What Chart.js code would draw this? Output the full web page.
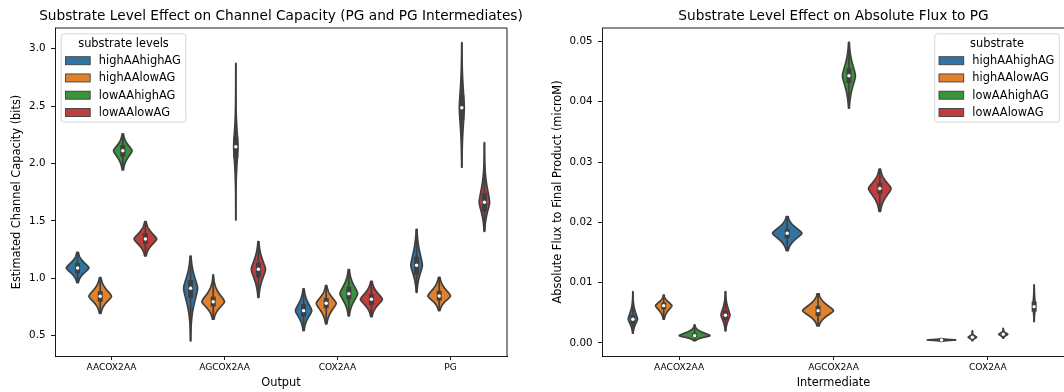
<!DOCTYPE html>
<html>
<head>
<meta charset="utf-8">
<title>Substrate level violins</title>
<script src="https://cdn.jsdelivr.net/npm/chart.js@4"></script>
<style>
  html, body { margin: 0; padding: 0; background: #fff; }
  body { width: 1064px; height: 392px; overflow: hidden; position: relative; }
  canvas { position: absolute; top: 0; }
  #capChart { left: 0; }
  #fluxChart { left: 530px; }
</style>
</head>
<body>
<canvas id="capChart" width="530" height="392"></canvas>
<canvas id="fluxChart" width="540" height="392"></canvas>
<script>
// Hue levels (same order in both panels)
const levels = ['highAAhighAG', 'highAAlowAG', 'lowAAhighAG', 'lowAAlowAG'];
const levelColors = ['#3274a1', '#e1812c', '#3a923a', '#c03d3e'];
const hueOffset = [-0.3, -0.1, 0.1, 0.3];

// Left panel: channel capacity (bits) per output
const capOutputs = ['AACOX2AA', 'AGCOX2AA', 'COX2AA', 'PG'];
const capTicks = [0.5, 1.0, 1.5, 2.0, 2.5, 3.0];
const capTickLabels = ['0.5', '1.0', '1.5', '2.0', '2.5', '3.0'];
// one row per level, one column per output
const capLow    = [[0.962, 0.454, 0.544, 0.878], [0.695, 0.643, 0.602, 0.718], [1.943, 1.508, 0.672, 1.967], [1.194, 0.834, 0.666, 1.409]];
const capQ1     = [[1.043, 0.826, 0.666, 1.029], [0.796, 0.753, 0.739, 0.805], [2.059, 2.045, 0.817, 2.379], [1.299, 1.009, 0.767, 1.580]];
const capMedian = [[1.090, 0.913, 0.718, 1.113], [0.843, 0.796, 0.782, 0.846], [2.111, 2.146, 0.866, 2.486], [1.342, 1.078, 0.817, 1.662]];
const capQ3     = [[1.133, 0.985, 0.776, 1.188], [0.887, 0.840, 0.828, 0.892], [2.161, 2.233, 0.927, 2.597], [1.392, 1.136, 0.863, 1.740]];
const capHigh   = [[1.226, 1.194, 0.907, 1.427], [1.005, 1.029, 0.936, 1.009], [2.257, 2.873, 1.075, 3.052], [1.493, 1.319, 0.974, 2.181]];
const capPeak   = [[1.00, 0.62, 0.72, 0.51], [1.00, 1.00, 0.88, 1.00], [0.82, 0.19, 0.78, 0.22], [1.00, 0.63, 0.97, 0.46]];

// Right panel: absolute flux to PG (microM) per intermediate
const fluxInter = ['AACOX2AA', 'AGCOX2AA', 'COX2AA'];
const fluxTicks = [0, 0.01, 0.02, 0.03, 0.04, 0.05];
const fluxTickLabels = ['0.00', '0.01', '0.02', '0.03', '0.04', '0.05'];
const fluxLow    = [[0.00161, 0.01532, 0.00028], [0.00393, 0.00282, 0.00038], [0.00038, 0.03892, 0.00078], [0.00199, 0.02180, 0.00353]];
const fluxQ1     = [[0.00315, 0.01738, 0.00045], [0.00559, 0.00448, 0.00080], [0.00095, 0.04310, 0.00130], [0.00382, 0.02473, 0.00520]];
const fluxMedian = [[0.00393, 0.01820, 0.00050], [0.00619, 0.00536, 0.00095], [0.00121, 0.04431, 0.00144], [0.00460, 0.02561, 0.00602]];
const fluxQ3     = [[0.00465, 0.01887, 0.00055], [0.00669, 0.00614, 0.00110], [0.00161, 0.04559, 0.00160], [0.00536, 0.02650, 0.00685]];
const fluxHigh   = [[0.00851, 0.02096, 0.00071], [0.00792, 0.00813, 0.00200], [0.00299, 0.04983, 0.00244], [0.00851, 0.02882, 0.00963]];
const fluxPeak   = [[0.30, 0.95, 0.92], [0.53, 1.00, 0.27], [1.00, 0.42, 0.29], [0.29, 0.73, 0.08]];

const FONT = 'DejaVu Sans';
const GRAY = '#3f3f3f';

// relative half-width of a violin at value v (pointed peak at the median, thin tails)
function violinShape(v, lo, q1, med, q3, hi) {
  const sIqr = (q3 - q1) / 1.349;
  const side = v >= med ? hi - med : med - lo;
  const s = Math.min(sIqr, side / 2.9);
  const z = Math.abs(v - med) / s;
  return Math.exp(-0.55 * Math.pow(z, 1.5));
}

// Violin bodies + inner box, drawn under the median points
const violinPlugin = {
  id: 'violins',
  beforeDatasetsDraw(chart) {
    const {ctx, scales: {x, y}} = chart;
    const maxHalf = x.getPixelForValue(0.1) - x.getPixelForValue(0);
    chart.data.datasets.forEach((ds, h) => {
      ds.data.forEach((pt, i) => {
        const lo = ds.low[i], q1 = ds.q1[i], med = pt.y, q3 = ds.q3[i], hi = ds.high[i];
        const cx = x.getPixelForValue(pt.x);
        const steps = 90;
        const side = [];
        for (let k = 0; k <= steps; k++) {
          const v = lo + (hi - lo) * k / steps;
          side.push([v, maxHalf * ds.peak[i] * violinShape(v, lo, q1, med, q3, hi)]);
        }
        ctx.save();
        ctx.beginPath();
        side.forEach(([v, w], k) => {
          if (k === 0) ctx.moveTo(cx + w, y.getPixelForValue(v));
          else ctx.lineTo(cx + w, y.getPixelForValue(v));
        });
        for (let k = side.length - 1; k >= 0; k--) {
          ctx.lineTo(cx - side[k][1], y.getPixelForValue(side[k][0]));
        }
        ctx.closePath();
        ctx.fillStyle = ds.violinColor;
        ctx.fill();
        ctx.lineWidth = 1.7;
        ctx.strokeStyle = GRAY;
        ctx.lineJoin = 'round';
        ctx.stroke();

        // whisker and box
        ctx.lineCap = 'butt';
        ctx.beginPath();
        ctx.moveTo(cx, y.getPixelForValue(lo));
        ctx.lineTo(cx, y.getPixelForValue(hi));
        ctx.lineWidth = 1.7;
        ctx.stroke();
        ctx.beginPath();
        ctx.moveTo(cx, y.getPixelForValue(q1));
        ctx.lineTo(cx, y.getPixelForValue(q3));
        ctx.lineWidth = 5;
        ctx.stroke();
        ctx.restore();
      });
    });
  }
};

// Title above the plot area, top/right spines, and the boxed legend
const framePlugin = {
  id: 'frame',
  afterDraw(chart, args, opts) {
    const {ctx, chartArea: a} = chart;
    ctx.save();
    ctx.strokeStyle = '#000';
    ctx.lineWidth = 0.9;
    ctx.beginPath();
    ctx.moveTo(a.left, a.top);
    ctx.lineTo(a.right, a.top);
    ctx.lineTo(a.right, a.bottom);
    ctx.stroke();

    ctx.fillStyle = '#000';
    ctx.font = '13.7px "' + FONT + '"';
    ctx.textAlign = 'center';
    ctx.textBaseline = 'middle';
    ctx.fillText(opts.title, (a.left + a.right) / 2, 16.5);

    // legend
    ctx.font = '11.4px "' + FONT + '"';
    let textW = ctx.measureText(opts.legendTitle).width;
    chart.data.datasets.forEach(ds => {
      textW = Math.max(textW, 24.7 + 8.6 + ctx.measureText(ds.label).width);
    });
    const boxW = textW + 4.3 + 5;
    const boxH = 88.3;
    const bx = opts.legendSide === 'left' ? a.left + 6.2 : a.right - 5.7 - boxW;
    const by = a.top + 5.8;
    ctx.beginPath();
    ctx.roundRect(bx, by, boxW, boxH, 2.5);
    ctx.fillStyle = 'rgba(255,255,255,0.8)';
    ctx.fill();
    ctx.strokeStyle = '#d6d6d6';
    ctx.lineWidth = 1;
    ctx.stroke();

    ctx.fillStyle = '#000';
    ctx.textAlign = 'center';
    ctx.fillText(opts.legendTitle, bx + boxW / 2, by + 10.2);
    ctx.textAlign = 'left';
    chart.data.datasets.forEach((ds, h) => {
      const ry = by + 26.9 + h * 17.25;
      ctx.fillStyle = ds.violinColor;
      ctx.fillRect(bx + 4.3, ry - 4, 24.7, 8);
      ctx.strokeStyle = GRAY;
      ctx.lineWidth = 0.9;
      ctx.strokeRect(bx + 4.3, ry - 4, 24.7, 8);
      ctx.fillStyle = '#000';
      ctx.fillText(ds.label, bx + 4.3 + 24.7 + 8.6, ry + 0.5);
    });
    ctx.restore();
  }
};

function makeDatasets(median, low, q1, q3, high, peak) {
  return levels.map((name, h) => ({
    label: name,
    violinColor: levelColors[h],
    data: median[h].map((m, i) => ({x: i + hueOffset[h], y: m})),
    low: low[h], q1: q1[h], q3: q3[h], high: high[h], peak: peak[h],
    pointRadius: 1.7,
    pointBackgroundColor: '#fff',
    pointBorderWidth: 0,
    showLine: false
  }));
}

function makeOptions(cfg) {
  return {
    responsive: false,
    animation: false,
    events: [],
    layout: {padding: {left: 0, top: 28, right: cfg.padRight, bottom: 0}},
    plugins: {
      legend: {display: false},
      tooltip: {enabled: false},
      frame: {title: cfg.title, legendTitle: cfg.legendTitle, legendSide: cfg.legendSide}
    },
    scales: {
      x: {
        type: 'linear',
        min: -0.5,
        max: cfg.categories.length - 0.5,
        afterBuildTicks: s => { s.ticks = cfg.categories.map((c, i) => ({value: i})); },
        afterFit: s => { s.height = 36; },
        grid: {drawOnChartArea: false, drawTicks: true, tickLength: 4, tickColor: '#000', tickWidth: 0.9},
        border: {display: true, color: '#000', width: 0.9},
        ticks: {autoSkip: false, maxRotation: 0, padding: 2.5, color: '#000',
                font: {family: FONT, size: 9.1}, callback: (v, i) => cfg.categories[i]},
        title: {display: true, text: cfg.xTitle, color: '#000',
                font: {family: FONT, size: 11.4}, padding: {top: 0, bottom: 2.5}}
      },
      y: {
        type: 'linear',
        min: cfg.yMin,
        max: cfg.yMax,
        afterBuildTicks: s => { s.ticks = cfg.ticks.map(v => ({value: v})); },
        afterFit: s => { s.width = cfg.yWidth; },
        grid: {drawOnChartArea: false, drawTicks: true, tickLength: 4, tickColor: '#000', tickWidth: 0.9},
        border: {display: true, color: '#000', width: 0.9},
        ticks: {padding: 5.5, color: '#000', font: {family: FONT, size: 10.3},
                callback: (v, i) => cfg.tickLabels[i]},
        title: {display: true, text: cfg.yTitle, color: '#000',
                font: {family: FONT, size: 11.4}, padding: {top: cfg.yTitlePad, bottom: 0}}
      }
    }
  };
}

new Chart(document.getElementById('capChart'), {
  type: 'scatter',
  data: {datasets: makeDatasets(capMedian, capLow, capQ1, capQ3, capHigh, capPeak)},
  options: makeOptions({
    title: 'Substrate Level Effect on Channel Capacity (PG and PG Intermediates)',
    legendTitle: 'substrate levels', legendSide: 'left',
    categories: capOutputs, padRight: 23,
    xTitle: 'Output', yTitle: 'Estimated Channel Capacity (bits)',
    yMin: 0.323, yMax: 3.18, ticks: capTicks, tickLabels: capTickLabels,
    yWidth: 55, yTitlePad: 10.7
  }),
  plugins: [violinPlugin, framePlugin]
});

new Chart(document.getElementById('fluxChart'), {
  type: 'scatter',
  data: {datasets: makeDatasets(fluxMedian, fluxLow, fluxQ1, fluxQ3, fluxHigh, fluxPeak)},
  options: makeOptions({
    title: 'Substrate Level Effect on Absolute Flux to PG',
    legendTitle: 'substrate', legendSide: 'right',
    categories: fluxInter, padRight: 5,
    xTitle: 'Intermediate', yTitle: 'Absolute Flux to Final Product (microM)',
    yMin: -0.00216, yMax: 0.05222, ticks: fluxTicks, tickLabels: fluxTickLabels,
    yWidth: 72, yTitlePad: 21.5
  }),
  plugins: [violinPlugin, framePlugin]
});
</script>
</body>
</html>
